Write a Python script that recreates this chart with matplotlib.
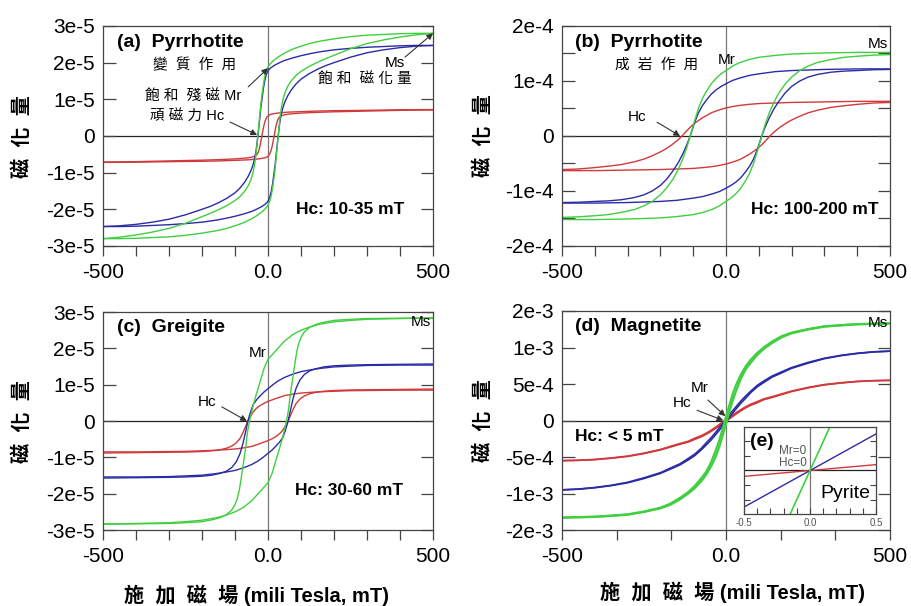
import matplotlib
matplotlib.use('Agg')
import matplotlib.pyplot as plt
import numpy as np

plt.rcParams['font.family'] = ['Liberation Sans', 'Noto Sans CJK TC', 'DejaVu Sans']

GREEN = '#3fcf3f'
BLUE = '#2b2ba6'
RED = '#d03a3a'

# upper (descending field) branch of each loop, field in mT
# (a) Pyrrhotite, metamorphic, units 1e-5
a_unit = 1e-5
a_gb_x = [500, 450, 400, 350, 300, 250, 200, 160, 130, 100, 75, 50, 35, 20, 10, 5, 0,
          -5, -10, -14, -18, -22, -25, -28, -31, -34, -37, -41, -46, -52, -60, -70, -85,
          -100, -125, -150, -175, -200, -250, -300, -350, -400, -450, -500]
a_green = [2.80, 2.80, 2.79, 2.77, 2.75, 2.71, 2.65, 2.59, 2.53, 2.45, 2.37, 2.26, 2.18, 2.08, 2.0, 1.95, 1.88,
           1.78, 1.62, 1.4, 1.15, 0.85, 0.55, 0.28, 0.0, -0.3, -0.55, -0.8, -1.02, -1.2, -1.36, -1.5, -1.65,
           -1.76, -1.9, -2.01, -2.11, -2.2, -2.38, -2.52, -2.62, -2.7, -2.76, -2.8]
a_blue = [2.47, 2.47, 2.46, 2.44, 2.42, 2.39, 2.35, 2.3, 2.25, 2.19, 2.13, 2.06, 2.0, 1.93, 1.87, 1.83, 1.78,
          1.68, 1.5, 1.3, 1.02, 0.75, 0.48, 0.22, -0.02, -0.25, -0.45, -0.63, -0.8, -0.95, -1.1, -1.25, -1.42,
          -1.55, -1.7, -1.82, -1.92, -2.0, -2.15, -2.27, -2.35, -2.41, -2.45, -2.47]
a_red_x = [500, 400, 300, 200, 150, 100, 60, 40, 25, 15, 8, 3, 0, -3, -6, -9, -12, -15, -18,
           -21, -24, -27, -30, -34, -40, -50, -65, -100, -150, -200, -300, -400, -500]
a_red = [0.72, 0.715, 0.70, 0.69, 0.68, 0.665, 0.65, 0.635, 0.62, 0.605, 0.59, 0.57, 0.55, 0.52, 0.47, 0.4, 0.3, 0.17, 0.03,
         -0.12, -0.26, -0.37, -0.45, -0.51, -0.55, -0.58, -0.6, -0.625, -0.645, -0.66, -0.68, -0.70, -0.71]

# (b) Pyrrhotite, diagenetic, units 1e-4
b_unit = 1e-4
b_gb_x = [500, 450, 400, 350, 300, 250, 200, 150, 100, 70, 40, 20, 0, -15, -30, -45, -60, -72, -84,
          -96, -109, -120, -132, -145, -160, -180, -200, -225, -250, -280, -320, -360, -400, -450, -500]
b_green = [1.52, 1.52, 1.52, 1.515, 1.51, 1.5, 1.49, 1.465, 1.43, 1.39, 1.33, 1.27, 1.19, 1.13, 1.05, 0.95, 0.81, 0.68, 0.5,
           0.27, 0.0, -0.22, -0.42, -0.6, -0.77, -0.94, -1.07, -1.19, -1.27, -1.34, -1.39, -1.43, -1.45, -1.47, -1.48]
b_blue = [1.22, 1.22, 1.22, 1.215, 1.21, 1.2, 1.19, 1.17, 1.13, 1.1, 1.05, 1.01, 0.95, 0.9, 0.84, 0.76, 0.65, 0.55, 0.42,
          0.24, 0.0, -0.17, -0.33, -0.48, -0.62, -0.78, -0.9, -1.0, -1.07, -1.12, -1.16, -1.18, -1.19, -1.205, -1.21]
b_red_x = [500, 450, 400, 350, 300, 250, 200, 150, 100, 70, 40, 20, 0, -15, -30, -45, -60, -72, -84,
           -96, -109, -122, -134, -148, -165, -185, -200, -225, -250, -280, -320, -360, -400, -450, -500]
b_red = [0.63, 0.63, 0.63, 0.625, 0.62, 0.615, 0.61, 0.6, 0.59, 0.575, 0.555, 0.535, 0.51, 0.485, 0.455, 0.42, 0.37, 0.33, 0.28,
         0.23, 0.16, 0.08, 0.0, -0.08, -0.16, -0.24, -0.29, -0.36, -0.42, -0.47, -0.52, -0.55, -0.575, -0.6, -0.61]

# (c) Greigite, units 1e-5
c_unit = 1e-5
c_green_x = [500, 450, 400, 350, 300, 250, 200, 160, 130, 100, 75, 50, 30, 15, 0, -12, -25, -35, -45, -56,
             -62, -67, -72, -77, -82, -87, -93, -100, -110, -125, -145, -170, -200, -250, -300, -400, -500]
c_green = [2.83, 2.83, 2.82, 2.81, 2.8, 2.77, 2.73, 2.67, 2.6, 2.5, 2.38, 2.2, 2.0, 1.85, 1.7, 1.45, 1.05, 0.75, 0.43, 0.0,
           -0.3, -0.68, -1.0, -1.3, -1.62, -1.9, -2.13, -2.3, -2.45, -2.57, -2.66, -2.72, -2.77, -2.8, -2.82, -2.83, -2.84]
c_br_x = [500, 450, 400, 350, 300, 250, 200, 160, 130, 100, 75, 50, 30, 15, 0, -12, -25, -35, -45, -53,
          -61, -68, -76, -85, -96, -110, -126, -145, -170, -200, -250, -300, -400, -500]
c_blue = [1.54, 1.54, 1.54, 1.535, 1.53, 1.51, 1.49, 1.45, 1.41, 1.36, 1.29, 1.2, 1.1, 1.0, 0.89, 0.8, 0.68, 0.58, 0.45, 0.25,
          0.0, -0.3, -0.62, -0.9, -1.12, -1.28, -1.38, -1.44, -1.49, -1.52, -1.54, -1.55, -1.56, -1.57]
c_red = [0.85, 0.85, 0.85, 0.845, 0.84, 0.835, 0.82, 0.805, 0.79, 0.77, 0.74, 0.7, 0.64, 0.59, 0.54, 0.49, 0.42, 0.35, 0.25, 0.13,
         0.0, -0.15, -0.32, -0.48, -0.6, -0.69, -0.75, -0.79, -0.82, -0.84, -0.855, -0.86, -0.87, -0.88]

# (d) Magnetite, units 1e-3
d_unit = 1e-3
d_x = [500, 450, 400, 350, 300, 250, 200, 170, 140, 115, 95, 75, 60, 45, 30, 20, 10, 0,
       -10, -20, -30, -45, -60, -75, -95, -115, -140, -170, -200, -250, -300, -350, -400, -450, -500]
d_green = [1.33, 1.325, 1.32, 1.306, 1.29, 1.252, 1.203, 1.155, 1.08, 1.0, 0.925, 0.83, 0.74, 0.625, 0.48, 0.355, 0.205, 0.05,
           -0.115, -0.265, -0.395, -0.57, -0.70, -0.79, -0.895, -0.98, -1.06, -1.14, -1.195, -1.247, -1.286, -1.303, -1.318, -1.324, -1.33]
d_blue = [0.95, 0.941, 0.921, 0.892, 0.853, 0.795, 0.725, 0.667, 0.607, 0.54, 0.48, 0.40, 0.335, 0.265, 0.185, 0.132, 0.075, 0.017,
          -0.041, -0.098, -0.155, -0.235, -0.305, -0.38, -0.46, -0.52, -0.593, -0.653, -0.715, -0.785, -0.847, -0.888, -0.918, -0.939, -0.95]
d_red = [0.55, 0.546, 0.536, 0.517, 0.492, 0.453, 0.403, 0.365, 0.325, 0.295, 0.258, 0.222, 0.187, 0.148, 0.104, 0.074, 0.042, 0.01,
         -0.022, -0.054, -0.086, -0.132, -0.173, -0.208, -0.242, -0.285, -0.315, -0.355, -0.397, -0.447, -0.488, -0.513, -0.534, -0.544, -0.55]

# (e) Pyrite inset, field in T, arbitrary units
e_x = [-0.5, 0.5]
e_green = [-3.33, 3.33]
e_blue = [-0.84, 0.84]
e_red = [-0.135, 0.135]

a_yticks = [-3e-5, -2e-5, -1e-5, 0, 1e-5, 2e-5, 3e-5]
a_ylabels = ['-3e-5', '-2e-5', '-1e-5', '0', '1e-5', '2e-5', '3e-5']
b_yticks = [-2e-4, -1e-4, 0, 1e-4, 2e-4]
b_ylabels = ['-2e-4', '-1e-4', '0', '1e-4', '2e-4']
b_yminor = [-1.5e-4, -0.5e-4, 0.5e-4, 1.5e-4]
d_yticks = [-1.5e-3, -1e-3, -5e-4, 0, 5e-4, 1e-3, 1.5e-3]
d_ylabels = ['-2e-3', '-1e-3', '-5e-4', '0', '5e-4', '1e-3', '2e-3']


def loop(ax, x, y, unit, color, lw=1.0):
    x = np.asarray(x, float)
    y = np.asarray(y, float) * unit
    ax.plot(x, y, color=color, lw=lw, solid_joinstyle='round')
    ax.plot(-x, -y, color=color, lw=lw, solid_joinstyle='round')


def setup(ax, ylim, yticks, ylabels, xminor, yminor=None):
    ax.set_xlim(-500, 500)
    ax.set_ylim(-ylim, ylim)
    ax.axhline(0, color='#222222', lw=0.9, zorder=0)
    ax.axvline(0, color='#777777', lw=0.9, zorder=0)
    ax.set_xticks([-500, 0, 500])
    ax.set_xticklabels(['-500', '0.0', '500'])
    ax.set_xticks(xminor, minor=True)
    ax.set_yticks(yticks)
    ax.set_yticklabels(ylabels)
    if yminor is not None:
        ax.set_yticks(yminor, minor=True)
    ax.tick_params(axis='x', which='both', direction='out', length=7, width=0.9,
                   color='#444444', labelsize=15, pad=5)
    ax.tick_params(axis='y', which='both', direction='in', length=9, width=0.9,
                   color='#444444', left=True, right=True, labelsize=15, pad=6)
    for s in ax.spines.values():
        s.set_color('#444444')
        s.set_linewidth(0.9)


def arrow(ax, head, tail):
    ax.annotate('', xy=head, xytext=tail,
                arrowprops=dict(arrowstyle='-|>', color='#333333', lw=0.8, mutation_scale=9,
                                shrinkA=0, shrinkB=0))


fig = plt.figure(figsize=(9.11, 6.06), dpi=100)
ax_a = fig.add_axes([0.1131, 0.5941, 0.3622, 0.363])
ax_b = fig.add_axes([0.6169, 0.5941, 0.36, 0.363])
ax_c = fig.add_axes([0.1131, 0.1254, 0.3622, 0.3597])
ax_d = fig.add_axes([0.6169, 0.1254, 0.36, 0.3614])

minor100 = [-400, -300, -200, -100, 100, 200, 300, 400]

# (a)
setup(ax_a, 3e-5, a_yticks, a_ylabels, minor100)
loop(ax_a, a_red_x, a_red, a_unit, RED)
loop(ax_a, a_gb_x, a_blue, a_unit, BLUE)
loop(ax_a, a_gb_x, a_green, a_unit, GREEN)
ax_a.text(0.042, 0.927, '(a)  Pyrrhotite', transform=ax_a.transAxes, fontsize=14,
          fontweight='bold', ha='left', va='center')
ax_a.text(0.279, 0.823, '變  質  作  用', transform=ax_a.transAxes, fontsize=10.5,
          ha='center', va='center')
ax_a.text(0.274, 0.68, '飽 和  殘 磁 Mr', transform=ax_a.transAxes, fontsize=10.5,
          ha='center', va='center')
ax_a.text(0.255, 0.586, '頑 磁 力 Hc', transform=ax_a.transAxes, fontsize=10.5,
          ha='center', va='center')
ax_a.text(0.885, 0.832, 'Ms', transform=ax_a.transAxes, fontsize=11, ha='center', va='center')
ax_a.text(0.794, 0.755, '飽 和  磁 化 量', transform=ax_a.transAxes, fontsize=10.5,
          ha='center', va='center')
ax_a.text(0.748, 0.168, 'Hc: 10-35 mT', transform=ax_a.transAxes, fontsize=12.5,
          fontweight='bold', ha='center', va='center')
arrow(ax_a, (0, 1.85e-5), (-60, 1.34e-5))
arrow(ax_a, (-33, 0.03e-5), (-115, 0.38e-5))
arrow(ax_a, (500, 2.8e-5), (415, 2.15e-5))

# (b)
setup(ax_b, 2e-4, b_yticks, b_ylabels, minor100, b_yminor)
loop(ax_b, b_red_x, b_red, b_unit, RED)
loop(ax_b, b_gb_x, b_blue, b_unit, BLUE)
loop(ax_b, b_gb_x, b_green, b_unit, GREEN)
ax_b.text(0.04, 0.927, '(b)  Pyrrhotite', transform=ax_b.transAxes, fontsize=14,
          fontweight='bold', ha='left', va='center')
ax_b.text(0.29, 0.823, '成  岩  作  用', transform=ax_b.transAxes, fontsize=10.5,
          ha='center', va='center')
ax_b.text(0.503, 0.845, 'Mr', transform=ax_b.transAxes, fontsize=11, ha='center', va='center')
ax_b.text(0.963, 0.92, 'Ms', transform=ax_b.transAxes, fontsize=11, ha='center', va='center')
ax_b.text(0.23, 0.586, 'Hc', transform=ax_b.transAxes, fontsize=11, ha='center', va='center')
ax_b.text(0.77, 0.164, 'Hc: 100-200 mT', transform=ax_b.transAxes, fontsize=12.5,
          fontweight='bold', ha='center', va='center')
arrow(ax_b, (-140, 0), (-210, 0.25e-4))

# (c)
setup(ax_c, 3e-5, a_yticks, a_ylabels, minor100)
loop(ax_c, c_br_x, c_red, c_unit, RED)
loop(ax_c, c_br_x, c_blue, c_unit, BLUE)
loop(ax_c, c_green_x, c_green, c_unit, GREEN)
ax_c.text(0.042, 0.931, '(c)  Greigite', transform=ax_c.transAxes, fontsize=14,
          fontweight='bold', ha='left', va='center')
ax_c.text(0.47, 0.81, 'Mr', transform=ax_c.transAxes, fontsize=11, ha='center', va='center')
ax_c.text(0.315, 0.587, 'Hc', transform=ax_c.transAxes, fontsize=11, ha='center', va='center')
ax_c.text(0.964, 0.954, 'Ms', transform=ax_c.transAxes, fontsize=11, ha='center', va='center')
ax_c.text(0.745, 0.183, 'Hc: 30-60 mT', transform=ax_c.transAxes, fontsize=12.5,
          fontweight='bold', ha='center', va='center')
arrow(ax_c, (-64, 0), (-140, 0.39e-5))

# (d)
setup(ax_d, 1.5e-3, d_yticks, d_ylabels, [-1000 / 3, -500 / 3, 500 / 3, 1000 / 3])
loop(ax_d, d_x, d_red, d_unit, RED, 1.2)
loop(ax_d, d_x, d_blue, d_unit, BLUE, 1.2)
loop(ax_d, d_x, d_green, d_unit, GREEN, 1.6)
ax_d.text(0.04, 0.927, '(d)  Magnetite', transform=ax_d.transAxes, fontsize=14,
          fontweight='bold', ha='left', va='center')
ax_d.text(0.42, 0.649, 'Mr', transform=ax_d.transAxes, fontsize=11, ha='center', va='center')
ax_d.text(0.366, 0.58, 'Hc', transform=ax_d.transAxes, fontsize=11, ha='center', va='center')
ax_d.text(0.963, 0.945, 'Ms', transform=ax_d.transAxes, fontsize=11, ha='center', va='center')
ax_d.text(0.04, 0.425, 'Hc: < 5 mT', transform=ax_d.transAxes, fontsize=12.5,
          fontweight='bold', ha='left', va='center')
arrow(ax_d, (-2, 0.06e-3), (-55, 0.28e-3))
arrow(ax_d, (-8, 0.0), (-88, 0.14e-3))

# (e) inset
ax_e = fig.add_axes([0.8167, 0.1518, 0.1449, 0.1436])
ax_e.set_xlim(-0.5, 0.5)
ax_e.set_ylim(-1, 1)
ax_e.axhline(0, color='#222222', lw=0.9, zorder=0)
ax_e.axvline(0, color='#777777', lw=0.9, zorder=0)
ax_e.plot(e_x, e_red, color=RED, lw=1.0)
ax_e.plot(e_x, e_blue, color=BLUE, lw=1.0)
ax_e.plot(e_x, e_green, color=GREEN, lw=1.2)
ax_e.set_xticks([-0.5, 0, 0.5])
ax_e.set_xticklabels(['-0.5', '0.0', '0.5'])
ax_e.set_xticks([-0.4, -0.3, -0.2, -0.1, 0.1, 0.2, 0.3, 0.4], minor=True)
ax_e.set_yticks([-0.67, -0.33, 0.33, 0.67])
ax_e.set_yticklabels([])
ax_e.tick_params(axis='x', which='both', direction='in', length=4, width=0.8,
                 color='#444444', labelsize=7, labelcolor='#555555', pad=3)
ax_e.tick_params(axis='y', direction='in', length=4, width=0.8, color='#444444',
                 left=True, right=True)
for s in ax_e.spines.values():
    s.set_color('#444444')
    s.set_linewidth(0.9)
ax_e.text(0.136, 0.83, '(e)', transform=ax_e.transAxes, fontsize=14, fontweight='bold',
          ha='center', va='center')
ax_e.text(0.37, 0.72, 'Mr=0', transform=ax_e.transAxes, fontsize=8.5, color='#555555',
          ha='center', va='center')
ax_e.text(0.37, 0.59, 'Hc=0', transform=ax_e.transAxes, fontsize=8.5, color='#555555',
          ha='center', va='center')
ax_e.text(0.765, 0.24, 'Pyrite', transform=ax_e.transAxes, fontsize=14,
          ha='center', va='center')

# axis titles
for yc, xc in [(137, 22), (422, 22), (136, 483), (421, 483)]:
    fig.text(xc / 911, 1 - yc / 606, '磁  化  量', rotation=90, fontsize=14.5,
             fontweight='bold', ha='center', va='center')
for xc, yc in [(257, 595), (733, 592)]:
    fig.text(xc / 911, 1 - yc / 606, '施  加  磁  場 (mili Tesla, mT)', fontsize=14.5,
             fontweight='bold', ha='center', va='center')

fig.savefig('out.png', dpi=100)
